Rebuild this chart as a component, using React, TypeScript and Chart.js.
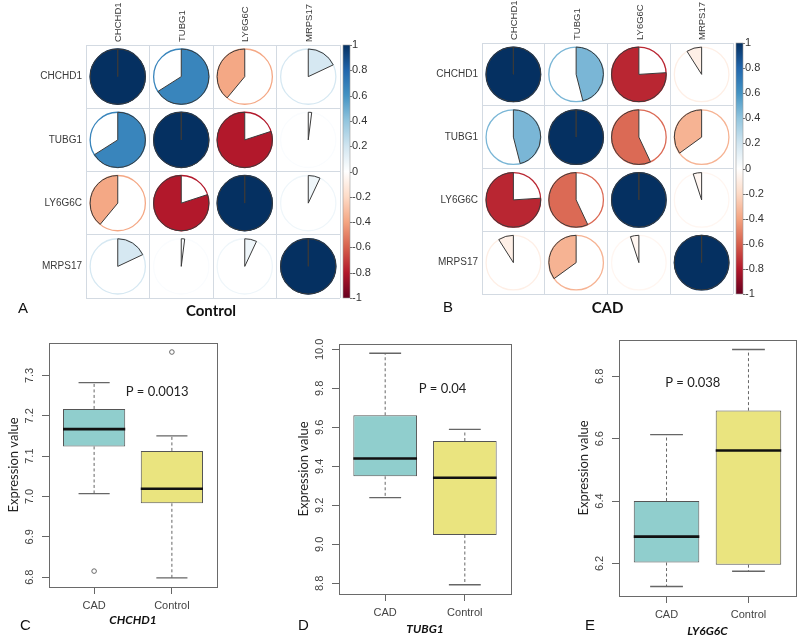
import React, { useEffect, useRef } from 'react';
import { Chart, registerables } from 'chart.js';
Chart.register(...registerables);

Chart.defaults.font.family = "'Liberation Sans', Arial, sans-serif";

// ---------- correlation matrices ----------
const genes = ['CHCHD1', 'TUBG1', 'LY6G6C', 'MRPS17'];
const corrControl = [
  [1, 0.66, -0.39, 0.18],
  [0.66, 1, -0.8, 0.02],
  [-0.39, -0.8, 1, 0.07],
  [0.18, 0.02, 0.07, 1],
];
const corrCAD = [
  [1, 0.46, -0.76, -0.09],
  [0.46, 1, -0.57, -0.35],
  [-0.76, -0.57, 1, -0.05],
  [-0.09, -0.35, -0.05, 1],
];
const colorbarTicks = [-1, -0.8, -0.6, -0.4, -0.2, 0, 0.2, 0.4, 0.6, 0.8, 1];
const paletteStops = ['#67001F', '#B2182B', '#D6604D', '#F4A582', '#FDDBC7', '#FFFFFF', '#D1E5F0', '#92C5DE', '#4393C3', '#2166AC', '#053061'];

// ---------- box plots ----------
const groups = ['CAD', 'Control'];
const chchd1Low = [7.007, 6.798];
const chchd1Q1 = [7.124, 6.983];
const chchd1Median = [7.167, 7.019];
const chchd1Q3 = [7.217, 7.113];
const chchd1High = [7.282, 7.15];
const chchd1Outliers = [[6.815], [7.358]];
const chchd1Ticks = [6.8, 6.9, 7.0, 7.1, 7.2, 7.3];

const tubg1Low = [9.24, 8.793];
const tubg1Q1 = [9.349, 9.048];
const tubg1Median = [9.44, 9.342];
const tubg1Q3 = [9.662, 9.53];
const tubg1High = [9.98, 9.59];
const tubg1Outliers = [[], []];
const tubg1Ticks = [8.8, 9.0, 9.2, 9.4, 9.6, 9.8, 10.0];

const ly6g6cLow = [6.126, 6.175];
const ly6g6cQ1 = [6.203, 6.196];
const ly6g6cMedian = [6.286, 6.562];
const ly6g6cQ3 = [6.4, 6.69];
const ly6g6cHigh = [6.613, 6.886];
const ly6g6cOutliers = [[], []];
const ly6g6cTicks = [6.2, 6.4, 6.6, 6.8];

const boxColors = ['#90cecd', '#eae47f'];
const BOX_HALF = 0.4;
const CAP_HALF = 0.2;
const GRID = '#d3dae2';
const SANS = "'Liberation Sans', Arial, sans-serif";
const CAL = "Lato, 'Open Sans', sans-serif";

function hexToRgb(h: string) {
  const n = parseInt(h.slice(1), 16);
  return [(n >> 16) & 255, (n >> 8) & 255, n & 255];
}
function corrColor(v: number) {
  const n = paletteStops.length;
  const t = ((v + 1) / 2) * (n - 1);
  const i = Math.max(0, Math.min(Math.floor(t), n - 2));
  const f = t - i;
  const a = hexToRgb(paletteStops[i]);
  const b = hexToRgb(paletteStops[i + 1]);
  const c = a.map((x, k) => Math.round(x + (b[k] - x) * f));
  return `rgb(${c[0]},${c[1]},${c[2]})`;
}

type TextItem = { text: string; x: (c: any) => number; y: (c: any) => number; font: string; color?: string; align?: CanvasTextAlign; baseline?: CanvasTextBaseline; rotate?: number };

function makeTextPlugin(items: TextItem[]) {
  return {
    id: 'panelText',
    afterDraw(chart: any) {
      const ctx = chart.ctx;
      items.forEach((it) => {
        ctx.save();
        ctx.font = it.font;
        ctx.fillStyle = it.color || '#222';
        ctx.textAlign = it.align || 'left';
        ctx.textBaseline = it.baseline || 'alphabetic';
        ctx.translate(it.x(chart), it.y(chart));
        if (it.rotate) ctx.rotate(it.rotate);
        ctx.fillText(it.text, 0, 0);
        ctx.restore();
      });
    },
  };
}

const piePlugin = {
  id: 'pies',
  afterDatasetsDraw(chart: any) {
    const meta = chart.getDatasetMeta(0);
    const xs = chart.scales.x;
    const cell = Math.abs(xs.getPixelForValue(1) - xs.getPixelForValue(0));
    const R = cell * 0.435;
    const ctx = chart.ctx;
    meta.data.forEach((pt: any, k: number) => {
      const v = chart.data.datasets[0].data[k].v;
      const x = pt.x;
      const y = pt.y;
      const col = corrColor(v);
      ctx.save();
      ctx.beginPath();
      ctx.arc(x, y, R, 0, Math.PI * 2);
      ctx.strokeStyle = col;
      ctx.lineWidth = 1.3;
      ctx.stroke();
      const start = -Math.PI / 2;
      const end = start + Math.PI * 2 * v;
      ctx.beginPath();
      ctx.moveTo(x, y);
      ctx.arc(x, y, R, start, end, v < 0);
      ctx.closePath();
      ctx.fillStyle = col;
      ctx.fill();
      ctx.strokeStyle = '#3a3a3a';
      ctx.lineWidth = 1;
      ctx.stroke();
      ctx.restore();
    });
    // column labels (rotated, reading upward), anchored to the x scale
    ctx.save();
    ctx.font = `9.5px ${SANS}`;
    ctx.fillStyle = '#3a3a3a';
    ctx.textAlign = 'left';
    ctx.textBaseline = 'middle';
    genes.forEach((g, i) => {
      ctx.save();
      ctx.translate(xs.getPixelForValue(i) + 1, chart.chartArea.top - 3);
      ctx.rotate(-Math.PI / 2);
      ctx.fillText(g, 0, 0);
      ctx.restore();
    });
    ctx.restore();
  },
};

const colorbarPlugin = {
  id: 'colorbar',
  afterDraw(chart: any) {
    const s = chart.scales.y2;
    const ctx = chart.ctx;
    const top = s.getPixelForValue(1);
    const bottom = s.getPixelForValue(-1);
    const x0 = s.left + 3;
    const w = 7;
    const g = ctx.createLinearGradient(0, bottom, 0, top);
    paletteStops.forEach((c, i) => g.addColorStop(i / (paletteStops.length - 1), c));
    ctx.save();
    ctx.fillStyle = g;
    ctx.fillRect(x0, top, w, bottom - top);
    ctx.strokeStyle = '#9a9a9a';
    ctx.lineWidth = 0.6;
    ctx.strokeRect(x0, top, w, bottom - top);
    ctx.beginPath();
    colorbarTicks.forEach((t) => {
      const yy = Math.round(s.getPixelForValue(t)) + 0.5;
      ctx.moveTo(x0 + w, yy);
      ctx.lineTo(x0 + w + 2, yy);
    });
    ctx.strokeStyle = '#555';
    ctx.lineWidth = 0.8;
    ctx.stroke();
    ctx.restore();
  },
};

function corrConfig(matrix: number[][], lay: any) {
  const cells = matrix.flatMap((row, i) => row.map((v, j) => ({ x: j, y: i, v })));
  const geneTicks = (a: any) => {
    a.ticks = genes.map((_, i) => ({ value: i }));
  };
  return {
    type: 'scatter',
    data: { datasets: [{ data: cells, pointRadius: 0, pointHoverRadius: 0 }] },
    options: {
      responsive: false,
      animation: false,
      devicePixelRatio: 1,
      events: [],
      layout: { padding: { left: 0, top: 0, right: 0, bottom: lay.padBottom } },
      plugins: { legend: { display: false }, tooltip: { enabled: false } },
      scales: {
        x: {
          type: 'linear', position: 'top', min: -0.5, max: 3.5,
          afterBuildTicks: geneTicks,
          afterFit: (a: any) => { a.height = lay.xHeight; },
          ticks: { display: false },
          grid: { offset: true, color: GRID, drawTicks: false },
          border: { color: GRID },
        },
        y: {
          type: 'linear', reverse: true, min: -0.5, max: 3.5,
          afterBuildTicks: geneTicks,
          afterFit: (a: any) => { a.width = lay.yWidth; },
          ticks: { callback: (v: number) => genes[v], autoSkip: false, font: { size: 10 }, color: '#3a3a3a', padding: 4 },
          grid: { offset: true, color: GRID, drawTicks: false },
          border: { color: GRID },
        },
        y2: {
          type: 'linear', position: 'right', min: -1, max: 1,
          afterBuildTicks: (a: any) => { a.ticks = colorbarTicks.map((v) => ({ value: v })); },
          afterFit: (a: any) => { a.width = lay.y2Width; },
          ticks: { callback: (v: number) => String(Math.round(v * 10) / 10), autoSkip: false, font: { size: 11 }, color: '#333', padding: 2 },
          grid: { drawOnChartArea: false, drawTicks: true, tickLength: 10, color: 'rgba(0,0,0,0)' },
          border: { display: false },
        },
      },
    },
    plugins: [
      piePlugin,
      colorbarPlugin,
      makeTextPlugin([
        { text: lay.letter, x: () => lay.letterX, y: () => lay.letterY, font: `15px ${SANS}`, color: '#111' },
        { text: lay.title, x: (c) => (c.chartArea.left + c.chartArea.right) / 2 + lay.titleDx, y: () => lay.titleY, font: `bold 15px ${CAL}`, color: '#111', align: 'center' },
      ]),
    ],
  };
}

function boxConfig(p: any) {
  const all = [...p.low, ...p.high, ...p.outliers.flat()];
  const dmin = Math.min(...all);
  const dmax = Math.max(...all);
  const ext = (dmax - dmin) * 0.04;
  const datasets: any[] = [
    {
      type: 'line', order: 0,
      data: p.median.flatMap((m: number, i: number) => [{ x: i + 1 - BOX_HALF, y: m }, { x: i + 1 + BOX_HALF, y: m }, { x: i + 1, y: null }]),
      borderColor: '#111', borderWidth: 2.6, pointRadius: 0, spanGaps: false,
    },
    {
      type: 'line', order: 1,
      data: groups.flatMap((_, i) => [
        { x: i + 1, y: p.q3[i] }, { x: i + 1, y: p.high[i] }, { x: i + 1, y: null },
        { x: i + 1, y: p.q1[i] }, { x: i + 1, y: p.low[i] }, { x: i + 1, y: null },
      ]),
      borderColor: '#666', borderWidth: 1, borderDash: [3, 2.5], pointRadius: 0, spanGaps: false,
    },
    {
      type: 'line', order: 1,
      data: groups.flatMap((_, i) => [
        { x: i + 1 - CAP_HALF, y: p.high[i] }, { x: i + 1 + CAP_HALF, y: p.high[i] }, { x: i + 1, y: null },
        { x: i + 1 - CAP_HALF, y: p.low[i] }, { x: i + 1 + CAP_HALF, y: p.low[i] }, { x: i + 1, y: null },
      ]),
      borderColor: '#666', borderWidth: 1.3, pointRadius: 0, spanGaps: false,
    },
    {
      type: 'scatter', order: 1,
      data: p.outliers.flatMap((arr: number[], i: number) => arr.map((v) => ({ x: i + 1, y: v }))),
      pointRadius: 2.3, pointBackgroundColor: 'rgba(0,0,0,0)', pointBorderColor: '#666', pointBorderWidth: 1,
    },
    {
      type: 'bar', order: 2,
      data: groups.map((_, i) => ({ x: i + 1, y: [p.q1[i], p.q3[i]] })),
      backgroundColor: boxColors, borderColor: '#555', borderWidth: 1, borderSkipped: false,
      barPercentage: 0.8, categoryPercentage: 1,
    },
  ];
  return {
    type: 'bar',
    data: { datasets },
    options: {
      responsive: false,
      animation: false,
      devicePixelRatio: 1,
      events: [],
      layout: { padding: { left: 0, top: p.padTop, right: p.padRight, bottom: 0 } },
      plugins: { legend: { display: false }, tooltip: { enabled: false } },
      scales: {
        x: {
          type: 'linear', min: 0.42, max: 2.58, offset: false,
          afterBuildTicks: (a: any) => { a.ticks = groups.map((_, i) => ({ value: i + 1 })); },
          afterFit: (a: any) => { a.height = p.xHeight; },
          ticks: { callback: (v: number) => groups[v - 1], autoSkip: false, font: { size: 11 }, color: '#444', padding: 5, maxRotation: 0, minRotation: 0 },
          grid: { offset: false, drawOnChartArea: false, drawTicks: true, tickLength: 7, color: '#666' },
          border: { display: false },
        },
        y: {
          type: 'linear', min: dmin - ext, max: dmax + ext, beginAtZero: false,
          afterBuildTicks: (a: any) => { a.ticks = p.ticks.map((v: number) => ({ value: v })); },
          afterFit: (a: any) => { a.width = p.yWidth; },
          ticks: { display: false },
          grid: { drawOnChartArea: false, drawTicks: true, tickLength: 7, color: '#666' },
          border: { display: false },
        },
      },
    },
    plugins: [
      {
        id: 'frame',
        afterDraw(chart: any) {
          const { left, top, right, bottom } = chart.chartArea;
          const ctx = chart.ctx;
          ctx.save();
          ctx.strokeStyle = '#6a6a6a';
          ctx.lineWidth = 1;
          ctx.strokeRect(Math.round(left) + 0.5, Math.round(top) + 0.5, Math.round(right - left), Math.round(bottom - top));
          const ys = chart.scales.y;
          ctx.font = `11px ${SANS}`;
          ctx.fillStyle = '#444';
          ctx.textAlign = 'center';
          ctx.textBaseline = 'middle';
          p.ticks.forEach((v: number) => {
            ctx.save();
            ctx.translate(left - 19, ys.getPixelForValue(v));
            ctx.rotate(-Math.PI / 2);
            ctx.fillText(v.toFixed(1), 0, 0);
            ctx.restore();
          });
          ctx.restore();
        },
      },
      makeTextPlugin([
        { text: 'Expression value', x: (c) => c.chartArea.left - 35, y: (c) => (c.chartArea.top + c.chartArea.bottom) / 2, font: `13px ${CAL}`, color: '#222', align: 'center', baseline: 'middle', rotate: -Math.PI / 2 },
        { text: p.pText, x: (c) => c.scales.x.getPixelForValue(p.pX), y: (c) => c.scales.y.getPixelForValue(p.pY), font: `13px ${CAL}`, color: '#222', align: 'center', baseline: 'middle' },
        { text: p.gene, x: (c) => (c.chartArea.left + c.chartArea.right) / 2, y: (c) => c.chartArea.bottom + p.geneDy, font: `italic bold 12px ${CAL}`, color: '#111', align: 'center' },
        { text: p.letter, x: () => p.letterX, y: () => p.letterY, font: `15px ${SANS}`, color: '#111' },
      ]),
    ],
  };
}

function ChartCanvas({ make, left, top, width, height }: any) {
  const ref = useRef<HTMLCanvasElement | null>(null);
  useEffect(() => {
    const chart = new Chart(ref.current as HTMLCanvasElement, make() as any);
    return () => chart.destroy();
  }, []);
  return <canvas ref={ref} width={width} height={height} style={{ position: 'absolute', left, top, width, height }} />;
}

export default function App() {
  useEffect(() => {
    document.body.style.margin = '0';
  }, []);
  return (
    <div style={{ position: 'absolute', left: 0, top: 0, width: 800, height: 637, background: '#fff', overflow: 'hidden' }}>
      <ChartCanvas left={0} top={0} width={400} height={330}
        make={() => corrConfig(corrControl, { padBottom: 32, xHeight: 45, yWidth: 86, y2Width: 60, letter: 'A', letterX: 18, letterY: 313, title: 'Control', titleDx: -2, titleY: 316 })} />
      <ChartCanvas left={400} top={0} width={400} height={330}
        make={() => corrConfig(corrCAD, { padBottom: 36, xHeight: 43, yWidth: 82, y2Width: 67, letter: 'B', letterX: 43, letterY: 312, title: 'CAD', titleDx: 0, titleY: 313 })} />
      <ChartCanvas left={0} top={330} width={270} height={307}
        make={() => boxConfig({ low: chchd1Low, q1: chchd1Q1, median: chchd1Median, q3: chchd1Q3, high: chchd1High, outliers: chchd1Outliers, ticks: chchd1Ticks,
          padTop: 13, padRight: 53, yWidth: 49, xHeight: 50, pText: 'P = 0.0013', pX: 1.81, pY: 7.26, gene: 'CHCHD1', geneDy: 37, letter: 'C', letterX: 20, letterY: 300 })} />
      <ChartCanvas left={270} top={330} width={260} height={307}
        make={() => boxConfig({ low: tubg1Low, q1: tubg1Q1, median: tubg1Median, q3: tubg1Q3, high: tubg1High, outliers: tubg1Outliers, ticks: tubg1Ticks,
          padTop: 14, padRight: 19, yWidth: 69, xHeight: 43, pText: 'P = 0.04', pX: 1.72, pY: 9.8, gene: 'TUBG1', geneDy: 39, letter: 'D', letterX: 28, letterY: 300 })} />
      <ChartCanvas left={530} top={330} width={270} height={307}
        make={() => boxConfig({ low: ly6g6cLow, q1: ly6g6cQ1, median: ly6g6cMedian, q3: ly6g6cQ3, high: ly6g6cHigh, outliers: ly6g6cOutliers, ticks: ly6g6cTicks,
          padTop: 10, padRight: 4, yWidth: 89, xHeight: 41, pText: 'P = 0.038', pX: 1.32, pY: 6.78, gene: 'LY6G6C', geneDy: 39, letter: 'E', letterX: 55, letterY: 300 })} />
    </div>
  );
}
